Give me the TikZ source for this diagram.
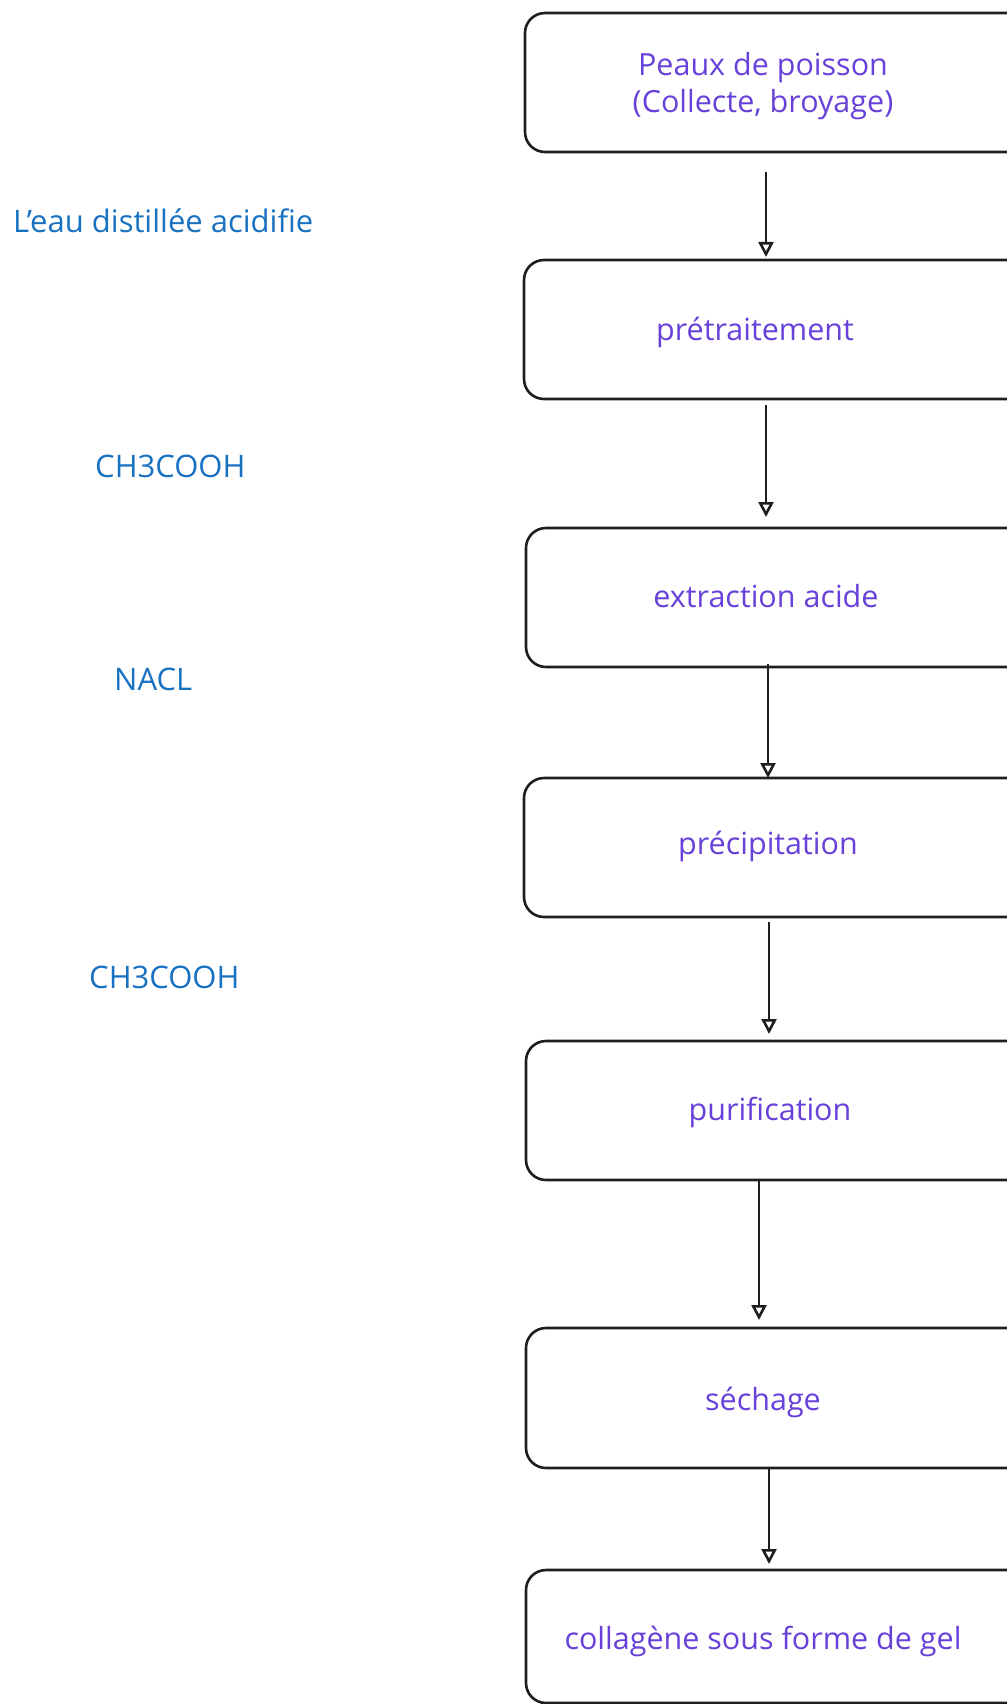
\documentclass[tikz,border=0pt]{standalone}
\usepackage{fontspec}
\setmainfont{Open Sans}
\usetikzlibrary{arrows.meta}
\definecolor{boxtxt}{HTML}{6741D9}
\definecolor{sidetxt}{HTML}{1971C2}
\definecolor{ink}{HTML}{1E1E1E}
\begin{document}
\begin{tikzpicture}[x=1pt,y=-1pt,
  stepbox/.style={draw=ink, line width=2.6pt, rounded corners=20pt, inner sep=0pt},
  boxlabel/.style={text=boxtxt, font=\fontsize{30.5}{37}\selectfont, align=center, inner sep=0pt},
  sidelabel/.style={text=sidetxt, font=\fontsize{31}{36}\selectfont, inner sep=0pt},
  flow/.style={draw=ink, line width=2.6pt, -{Triangle[open, length=15pt, width=15pt, line width=2.6pt]}}]
\useasboundingbox (0,0) rectangle (1006,1704);
% boxes (extend beyond right edge as in reference)
\node[stepbox, minimum width=520pt, minimum height=139pt] (b1) at (785,82.5) {};
\node[stepbox, minimum width=520pt, minimum height=139pt] (b2) at (784,329.5) {};
\node[stepbox, minimum width=520pt, minimum height=139pt] (b3) at (786,597.5) {};
\node[stepbox, minimum width=520pt, minimum height=139pt] (b4) at (784,847.5) {};
\node[stepbox, minimum width=520pt, minimum height=139pt] (b5) at (786,1110.5) {};
\node[stepbox, minimum width=520pt, minimum height=140pt] (b6) at (786,1398) {};
\node[stepbox, minimum width=520pt, minimum height=133pt] (b7) at (786,1636.5) {};
% box texts
\node[boxlabel] (t1) at (763,86) {Peaux de poisson\\(Collecte, broyage)};
\node[boxlabel] (t2) at (755,332) {prétraitement};
\node[boxlabel] (t3) at (766,596) {extraction acide};
\node[boxlabel] (t4) at (768,846) {précipitation};
\node[boxlabel] (t5) at (770,1112) {purification};
\node[boxlabel] (t6) at (763,1402) {séchage};
\node[boxlabel] (t7) at (763,1641) {collagène sous forme de gel};
% side labels
\node[sidelabel, anchor=west] (s1) at (13,221) {L’eau distillée acidifie};
\node[sidelabel, anchor=west] (s2) at (95,466) {CH3COOH};
\node[sidelabel, anchor=west] (s3) at (114,679) {NACL};
\node[sidelabel, anchor=west] (s4) at (89,977) {CH3COOH};
% connector end points
\coordinate (a1s) at (766,172); \coordinate (a1e) at (766,257);
\coordinate (a2s) at (766,405); \coordinate (a2e) at (766,517);
\coordinate (a3s) at (768,664); \coordinate (a3e) at (768,778);
\coordinate (a4s) at (769,922); \coordinate (a4e) at (769,1034);
\coordinate (a5s) at (759,1180); \coordinate (a5e) at (759,1320);
\coordinate (a6s) at (769,1468); \coordinate (a6e) at (769,1564);
\draw[flow] (a1s) -- (a1e);
\draw[flow] (a2s) -- (a2e);
\draw[flow] (a3s) -- (a3e);
\draw[flow] (a4s) -- (a4e);
\draw[flow] (a5s) -- (a5e);
\draw[flow] (a6s) -- (a6e);
\end{tikzpicture}
\end{document}
